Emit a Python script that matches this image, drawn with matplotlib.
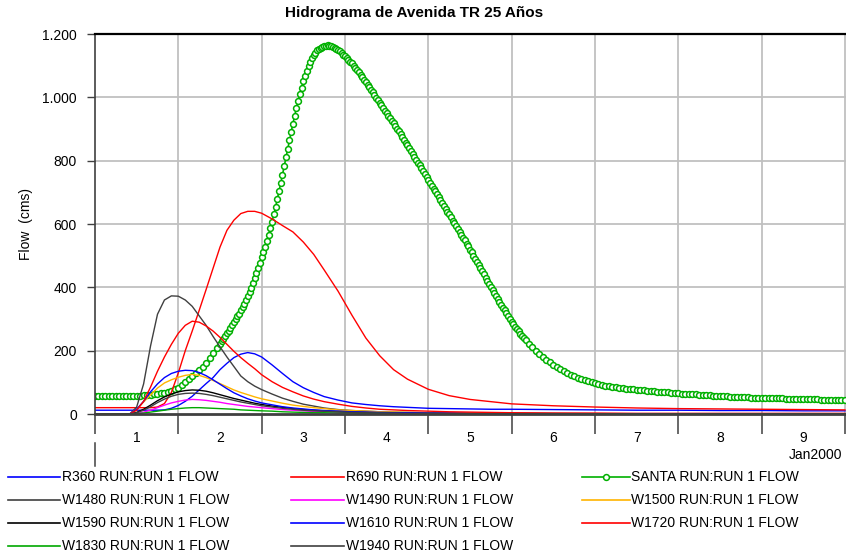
import numpy as np
import matplotlib
matplotlib.use("Agg")
import matplotlib.pyplot as plt
from matplotlib.lines import Line2D
from matplotlib.ticker import FixedLocator, FuncFormatter

plt.rcParams['font.family'] = ['Liberation Sans', 'DejaVu Sans']

# ---------------- data ----------------
title = "Hidrograma de Avenida TR 25 Años"
ylabel = "Flow  (cms)"
day_labels = ["1", "2", "3", "4", "5", "6", "7", "8", "9"]
month_label = "Jan2000"

# SANTA outflow, hourly values from Jan 1 00:00 (hour 0) to Jan 10 00:00 (hour 216)
santa_flow = [
    58, 58, 58, 58, 58, 58, 58, 58, 58, 58, 58, 58,
    58, 58, 59, 60, 61, 62, 63, 65, 67, 70, 73, 78,
    83, 92, 102, 111, 120, 129, 139, 150, 162, 177, 193, 208,
    222, 238, 255, 272, 290, 308, 327, 348, 372, 398, 428, 460,
    495, 528, 565, 607, 653, 703, 756, 810, 864, 917, 966, 1010,
    1050, 1084, 1112, 1133, 1148, 1157, 1162, 1164, 1162, 1156, 1149, 1140,
    1130, 1119, 1107, 1093, 1080, 1064, 1048, 1032, 1016, 999, 983, 966,
    950, 934, 918, 901, 884, 866, 848, 830, 812, 794, 776, 758,
    739, 721, 703, 685, 666, 648, 630, 611, 593, 575, 557, 538,
    519, 500, 480, 461, 441, 421, 401, 382, 363, 345, 327, 309,
    292, 276, 261, 247, 234, 222, 211, 200, 190, 181, 172, 164,
    156, 149, 142, 135, 129, 124, 119, 114, 110, 106, 103, 100,
    97, 94, 92, 90, 88, 86, 84, 83, 81, 80, 79, 78,
    77, 76, 75, 74, 73, 72, 71, 70, 69, 68, 67, 66,
    65, 64, 64, 63, 62, 62, 61, 60, 59, 59, 58, 57,
    57, 56, 56, 55, 55, 54, 54, 53, 53, 52, 52, 51,
    51, 50, 50, 50, 49, 49, 49, 48, 48, 48, 47, 47,
    47, 46, 46, 46, 46, 45, 45, 45, 45, 45, 44, 44,
    44,
]
# SANTA half-hour readings (hour 36.5 to 123.5) on the steep part of the hydrograph
santa_flow_half = [
    230, 246, 263, 281, 299, 317, 337, 360,
    385, 413, 444, 477, 511, 546, 586, 630, 678, 729, 783, 837,
    891, 942, 989, 1031, 1068, 1099, 1123, 1141, 1153, 1160, 1163, 1163,
    1159, 1153, 1145, 1135, 1125, 1113, 1100, 1087, 1072, 1056, 1040, 1024,
    1008, 991, 975, 958, 942, 926, 910, 893, 875, 857, 839, 821,
    803, 785, 767, 749, 730, 712, 694, 676, 657, 639, 621, 602,
    584, 566, 548, 529, 510, 490, 471, 451, 431, 411, 392, 373,
    354, 336, 318, 300, 284, 268, 254, 240,
]

# other series, read at these hours
hours = [0, 8, 10, 12, 14, 16, 18, 20, 22, 24, 26, 28, 30, 32, 34, 36, 38, 40, 42, 44, 46, 48,
         51, 54, 57, 60, 63, 66, 70, 74, 78, 82, 86, 90, 96, 102, 108, 114, 120,
         132, 144, 156, 168, 180, 192, 204, 216]

r360 = [12, 12, 12, 12, 12, 12, 12, 13, 18, 27, 40, 56, 76, 96, 115, 140, 160, 178, 189, 194, 190, 180,
        155, 128, 102, 83, 68, 55, 44, 35, 30, 26, 23, 21, 18, 17, 16, 15, 15,
        14, 13, 12, 12, 11, 11, 10, 10]
r690 = [20, 20, 20, 20, 20, 20, 22, 33, 68, 130, 200, 262, 327, 393, 460, 527, 580, 612, 633, 640, 640, 634,
        616, 595, 575, 543, 504, 455, 388, 312, 240, 184, 140, 110, 78, 58, 46, 39, 32,
        26, 22, 19, 17, 16, 15, 14, 13]
w1480 = [0, 0, 0, 22, 95, 215, 315, 360, 373, 372, 360, 340, 310, 280, 245, 212, 180, 150, 120, 102, 88, 77,
         63, 50, 40, 31, 25, 19, 14, 11, 9, 7, 6, 5, 4, 3, 3, 2, 2,
         2, 1, 1, 1, 1, 1, 1, 1]
w1490 = [0, 0, 0, 2, 6, 12, 20, 28, 35, 40, 44, 46, 45, 43, 40, 37, 33, 30, 27, 24, 22, 20,
         17, 14, 12, 10, 8, 7, 5, 4, 3, 3, 2, 2, 1, 1, 1, 1, 1,
         0, 0, 0, 0, 0, 0, 0, 0]
w1500 = [0, 0, 0, 15, 38, 60, 82, 98, 108, 116, 122, 125, 122, 115, 106, 96, 86, 76, 68, 61, 54, 48,
         41, 34, 28, 24, 20, 17, 13, 11, 9, 7, 6, 5, 4, 3, 3, 2, 2,
         1, 1, 1, 1, 1, 1, 1, 1]
w1590 = [0, 0, 0, 5, 15, 28, 42, 54, 63, 70, 74, 76, 75, 72, 67, 61, 55, 49, 44, 39, 34, 30,
         25, 21, 17, 14, 12, 10, 8, 6, 5, 4, 3, 3, 2, 2, 1, 1, 1,
         1, 1, 0, 0, 0, 0, 0, 0]
w1610 = [0, 0, 0, 15, 40, 70, 95, 115, 128, 135, 138, 137, 131, 121, 108, 94, 80, 67, 57, 48, 41, 35,
         29, 23, 19, 16, 13, 11, 9, 7, 6, 5, 4, 4, 3, 3, 2, 2, 2,
         1, 1, 1, 1, 1, 1, 1, 1]
w1720 = [0, 0, 0, 12, 40, 85, 135, 180, 220, 255, 280, 293, 290, 278, 262, 242, 220, 198, 178, 160, 143, 124,
         102, 84, 70, 57, 47, 39, 31, 24, 19, 15, 13, 11, 9, 7, 6, 5, 4,
         3, 3, 2, 2, 2, 2, 2, 2]
w1830 = [0, 0, 0, 1, 3, 6, 9, 12, 15, 17, 19, 20, 20, 19, 18, 17, 16, 15, 13, 12, 11, 10,
         9, 7, 6, 5, 4, 4, 3, 3, 2, 2, 1, 1, 1, 1, 1, 1, 1,
         0, 0, 0, 0, 0, 0, 0, 0]
w1940 = [0, 0, 0, 4, 12, 23, 36, 47, 56, 62, 65, 66, 65, 62, 58, 53, 48, 43, 38, 34, 30, 26,
         22, 18, 15, 12, 10, 9, 7, 5, 4, 3, 3, 2, 2, 1, 1, 1, 1,
         1, 0, 0, 0, 0, 0, 0, 0]

names = ["R360 RUN:RUN 1 FLOW", "R690 RUN:RUN 1 FLOW", "SANTA RUN:RUN 1 FLOW",
         "W1480 RUN:RUN 1 FLOW", "W1490 RUN:RUN 1 FLOW", "W1500 RUN:RUN 1 FLOW",
         "W1590 RUN:RUN 1 FLOW", "W1610 RUN:RUN 1 FLOW", "W1720 RUN:RUN 1 FLOW",
         "W1830 RUN:RUN 1 FLOW", "W1940 RUN:RUN 1 FLOW"]

# merge the SANTA hourly and half-hour readings in time order
santa_t = np.concatenate([np.arange(len(santa_flow), dtype=float),
                          36.5 + np.arange(len(santa_flow_half))])
santa_q = np.concatenate([np.array(santa_flow, float), np.array(santa_flow_half, float)])
order = np.argsort(santa_t)
santa_t, santa_q = santa_t[order], santa_q[order]

# ---------------- styles ----------------
BLUE = "#0000FF"
RED = "#FF0000"
GREEN = "#00B000"
GRAY = "#404040"
MAG = "#FF00FF"
ORANGE = "#FFB400"
BLACK = "#000000"
GREEN2 = "#00A800"
GRID = "#C0C0C0"

W, H = 846, 560
fig = plt.figure(figsize=(W / 100, H / 100), dpi=100)
ax = fig.add_axes([95 / W, 1 - 414 / H, 751 / W, 380 / H])

lw = 1.0
ax.plot(santa_t, santa_q, color=GREEN, lw=1.2, marker='o', ms=4.2, mfc='white',
        mec=GREEN, mew=1.1, zorder=2)
series = [
    (r360, BLUE), (r690, RED), (w1480, GRAY), (w1490, MAG), (w1500, ORANGE),
    (w1590, BLACK), (w1610, BLUE), (w1720, RED), (w1830, GREEN2), (w1940, GRAY),
]
for vals, c in series:
    ax.plot(hours, vals, color=c, lw=lw, zorder=3)

ax.set_xlim(0, 216.3)
ax.set_ylim(0, 1200)

# grid
for d in range(1, 10):
    ax.axvline(24 * d, color=GRID, lw=1.3, zorder=1)
for v in range(200, 1200, 200):
    ax.axhline(v, color=GRID, lw=1.3, zorder=1)

# spines
ax.spines['right'].set_visible(False)
ax.spines['top'].set_color('black')
ax.spines['top'].set_linewidth(1.6)
ax.spines['left'].set_color(GRAY)
ax.spines['left'].set_linewidth(1.2)
ax.spines['bottom'].set_color(GRAY)
ax.spines['bottom'].set_linewidth(2.0)
for s in ax.spines.values():
    s.set_zorder(4)

# y ticks
ax.set_yticks(range(0, 1201, 200))
ax.yaxis.set_major_formatter(FuncFormatter(lambda v, p: f"{int(v):,}".replace(",", ".")))
ax.tick_params(axis='y', direction='out', length=6, width=1.0, color=GRAY, pad=7,
               labelsize=10, labelcolor='black')

# x ticks: long ticks at day boundaries, labels at mid-day
ax.xaxis.set_major_locator(FixedLocator([24 * d for d in range(0, 10)]))
ax.xaxis.set_minor_locator(FixedLocator([24 * d + 12 for d in range(0, 9)]))
ax.xaxis.set_major_formatter(FuncFormatter(lambda v, p: ""))
ax.xaxis.set_minor_formatter(FuncFormatter(lambda v, p: day_labels[int(v // 24)] if int(v // 24) < len(day_labels) else ""))
ax.tick_params(axis='x', which='major', direction='out', length=14.5, width=1.1, color=GRAY)
ax.tick_params(axis='x', which='minor', length=0, pad=12, labelsize=10)

# month marker and label
fig.add_artist(Line2D([95 / W, 95 / W], [1 - 443 / H, 1 - 466 / H], color=GRAY, lw=1.1))
fig.text(842 / W, 1 - 455 / H, month_label, ha='right', va='center', fontsize=10)

# title and y label
fig.text(414 / W, 1 - 13 / H, title, ha='center', va='center', fontsize=11, fontweight='bold')
fig.text(26 / W, 1 - 224 / H, ylabel, ha='center', va='center', rotation=90, fontsize=10)

# legend (manual, row-major like the reference)
leg_colors = [BLUE, RED, GREEN, GRAY, MAG, ORANGE, BLACK, BLUE, RED, GREEN2, GRAY]
col_line = [(8, 60), (291, 344), (582, 630)]
col_text = [62, 346, 631]
row_y = [477, 500, 523, 546]
for i, (name, c) in enumerate(zip(names, leg_colors)):
    r, col = divmod(i, 3)
    y = 1 - row_y[r] / H
    x0, x1 = col_line[col]
    fig.add_artist(Line2D([x0 / W, x1 / W], [y, y], color=c, lw=1.2))
    if name.startswith("SANTA"):
        fig.add_artist(Line2D([(x0 + x1) / 2 / W], [y], color=c, marker='o', ms=4.2,
                              mfc='white', mec=c, mew=1.1, lw=0))
    fig.text(col_text[col] / W, y, name, ha='left', va='center', fontsize=10)

fig.savefig("out.png", dpi=100)
